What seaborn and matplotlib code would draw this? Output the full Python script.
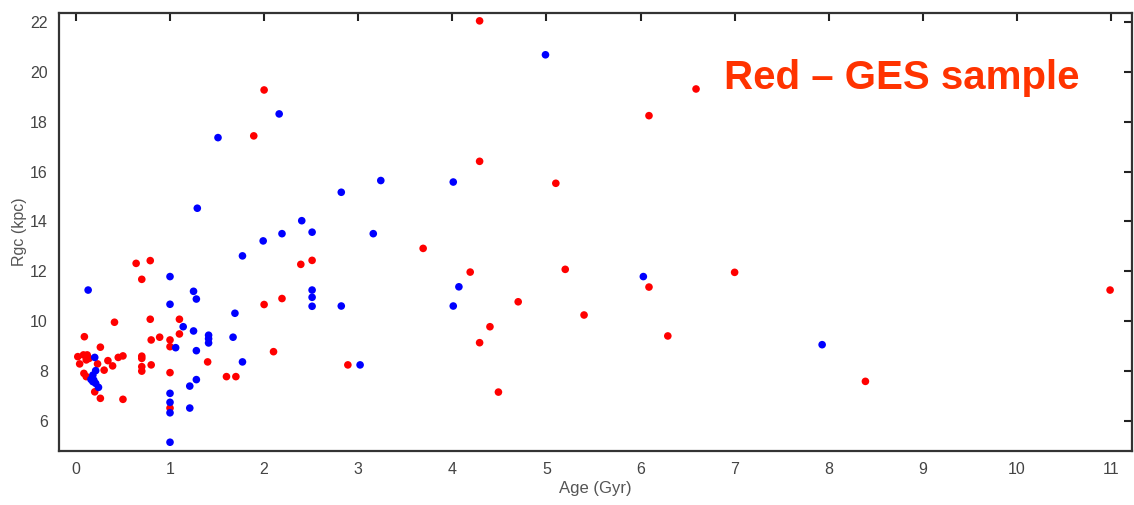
import matplotlib
matplotlib.use("Agg")
import matplotlib.pyplot as plt
import seaborn as sns
import pandas as pd

# GES sample (red)
red_age = [0.02, 0.08, 0.12, 0.04, 0.11, 0.14, 0.09, 0.085, 0.11, 0.20, 0.23, 0.26, 0.26,
           0.30, 0.34, 0.39, 0.41, 0.45, 0.50, 0.50, 0.64, 0.70, 0.70, 0.70, 0.70, 0.70,
           0.79, 0.79, 0.80, 0.80, 0.89, 1.0, 1.0, 1.0, 1.0, 1.10, 1.10, 1.40, 1.60, 1.70,
           1.89, 2.0, 2.0, 2.10, 2.19, 2.39, 2.51, 2.89, 3.69, 4.19, 4.29, 4.29, 4.29, 4.40,
           4.49, 4.70, 5.10, 5.20, 5.40, 6.09, 6.09, 6.29, 6.59, 7.0, 8.39, 10.99]
red_rgc = [8.58, 8.65, 8.65, 8.29, 8.45, 8.51, 9.38, 7.91, 7.78, 7.17, 8.29, 8.96, 6.91,
           8.04, 8.42, 8.21, 9.96, 8.55, 8.61, 6.87, 12.32, 11.68, 8.60, 8.51, 8.18, 8.0,
           12.43, 10.08, 9.25, 8.25, 9.36, 9.25, 8.98, 7.94, 6.52, 10.08, 9.49, 8.37, 7.78, 7.78,
           17.43, 19.27, 10.67, 8.78, 10.91, 12.28, 12.44, 8.25, 12.92, 11.97, 22.04, 16.41, 9.14, 9.78,
           7.16, 10.78, 15.53, 12.08, 10.25, 18.24, 11.37, 9.41, 19.31, 11.96, 7.59, 11.25]

# Other sample (blue)
blue_age = [0.13, 0.20, 0.21, 0.18, 0.16, 0.19, 0.21, 0.24, 0.18, 1.0, 1.0, 1.0, 1.0, 1.0,
            1.0, 1.06, 1.14, 1.21, 1.21, 1.25, 1.25, 1.28, 1.28, 1.28, 1.29, 1.41, 1.41, 1.41,
            1.51, 1.67, 1.69, 1.77, 1.77, 1.99, 2.16, 2.19, 2.40, 2.51, 2.51, 2.51, 2.51, 2.82,
            2.82, 3.02, 3.16, 3.24, 4.01, 4.01, 4.07, 4.99, 6.03, 7.93]
blue_rgc = [11.25, 8.55, 8.02, 7.84, 7.67, 7.64, 7.51, 7.35, 7.58, 11.79, 10.68, 7.11, 6.75, 6.33,
            5.15, 8.94, 9.78, 7.40, 6.52, 11.2, 9.61, 10.89, 8.82, 7.66, 14.53, 9.44, 9.30, 9.13,
            17.36, 9.36, 10.32, 12.62, 8.37, 13.22, 18.31, 13.51, 14.03, 13.57, 11.25, 10.96, 10.60, 15.17,
            10.61, 8.25, 13.51, 15.64, 15.58, 10.61, 11.38, 20.68, 11.79, 9.06]

x_ticks = list(range(0, 12))
y_ticks = list(range(6, 23, 2))

df = pd.DataFrame({
    "age": red_age + blue_age,
    "rgc": red_rgc + blue_rgc,
    "sample": ["GES"] * len(red_age) + ["other"] * len(blue_age),
})

sns.set_style("white")
plt.rcParams["font.family"] = ["Liberation Sans", "DejaVu Sans"]

fig = plt.figure(figsize=(11.34, 5.05), dpi=100)
ax = fig.add_axes([0.052, 0.107, 0.946, 0.867])

sns.scatterplot(data=df, x="age", y="rgc", hue="sample",
                palette={"GES": "#ff0000", "other": "#0000ff"},
                s=30, linewidth=0, legend=False, ax=ax)

ax.set_xlim(-0.18, 11.22)
ax.set_ylim(4.8, 22.35)
ax.set_xticks(x_ticks)
ax.set_yticks(y_ticks)
ax.tick_params(direction="in", length=6, width=1.5, colors="#222222",
               top=True, right=True, labelcolor="#444444", labelsize=11.5, pad=8)
for sp in ax.spines.values():
    sp.set_color("#333333")
    sp.set_linewidth(1.6)

ax.set_xlabel("Age (Gyr)", fontsize=12, color="#555555", labelpad=3)
ax.set_ylabel("Rgc (kpc)", fontsize=11.5, color="#555555", labelpad=2)

ax.text(6.89, 19.73, "Red \u2013 GES sample", color="#ff3300", fontsize=29,
        fontweight="bold", ha="left", va="center")

fig.savefig("out.png", dpi=100)
